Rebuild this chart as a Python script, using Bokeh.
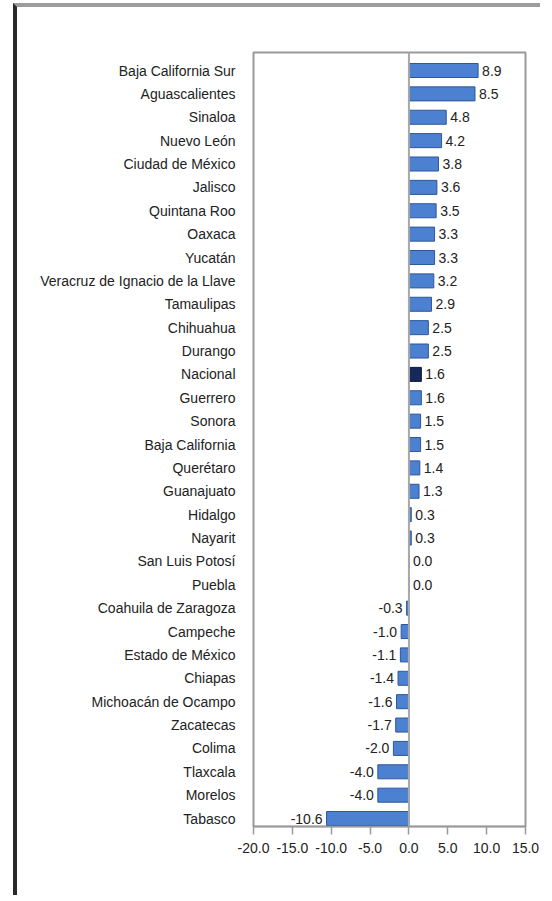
from bokeh.plotting import figure
from bokeh.models import ColumnDataSource, FixedTicker, NumeralTickFormatter, Span, Range1d
from bokeh.core.properties import value
from bokeh.embed import file_html
from bokeh.resources import INLINE

states = [
    "Baja California Sur", "Aguascalientes", "Sinaloa", "Nuevo León",
    "Ciudad de México", "Jalisco", "Quintana Roo", "Oaxaca", "Yucatán",
    "Veracruz de Ignacio de la Llave", "Tamaulipas", "Chihuahua", "Durango",
    "Nacional", "Guerrero", "Sonora", "Baja California", "Querétaro",
    "Guanajuato", "Hidalgo", "Nayarit", "San Luis Potosí", "Puebla",
    "Coahuila de Zaragoza", "Campeche", "Estado de México", "Chiapas",
    "Michoacán de Ocampo", "Zacatecas", "Colima", "Tlaxcala", "Morelos",
    "Tabasco",
]
values = [
    8.9, 8.5, 4.8, 4.2, 3.8, 3.6, 3.5, 3.3, 3.3, 3.2, 2.9, 2.5, 2.5,
    1.6, 1.6, 1.5, 1.5, 1.4, 1.3, 0.3, 0.3, 0.0, 0.0, -0.3, -1.0, -1.1,
    -1.4, -1.6, -1.7, -2.0, -4.0, -4.0, -10.6,
]
x_ticks = [-20, -15, -10, -5, 0, 5, 10, 15]

n = len(states)
ypos = [n - 1 - i for i in range(n)]
colors = ["#17295a" if s == "Nacional" else "#4c80d0" for s in states]
lines = ["#0e1a3a" if s == "Nacional" else "#2d5798" for s in states]
labels = ["%.1f" % v for v in values]

pos = [i for i, v in enumerate(values) if v >= 0]
neg = [i for i, v in enumerate(values) if v < 0]

src = ColumnDataSource(dict(y=ypos, v=values, c=colors, lc=lines, t=labels))
src_pos = ColumnDataSource(dict(y=[ypos[i] for i in pos], v=[values[i] for i in pos], t=[labels[i] for i in pos]))
src_neg = ColumnDataSource(dict(y=[ypos[i] for i in neg], v=[values[i] for i in neg], t=[labels[i] for i in neg]))

p = figure(
    width=527, height=892,
    x_range=Range1d(-20, 15), y_range=Range1d(-0.34, n - 1 + 0.77),
    output_backend="svg", toolbar_location=None,
    min_border_left=236, min_border_right=19, min_border_top=45, min_border_bottom=73,
)
p.styles = {
    "border-left": "4px solid #2a2a2a",
    "border-top": "4px solid #9c9c9c",
    "margin-left": "13px",
    "margin-top": "3px",
}

p.hbar(y="y", left=0, right="v", height=0.6, fill_color="c", line_color="lc",
       line_width=1, source=src)

p.add_layout(Span(location=0, dimension="height", line_color="#a8a8a8", line_width=2))

FS = "14px"
p.text(x="v", y="y", text="t", source=src_pos, x_offset=4, text_align="left",
       text_baseline="middle", text_font=value("Liberation Sans"),
       text_font_size=FS, text_color="#222222")
p.text(x="v", y="y", text="t", source=src_neg, x_offset=-4, text_align="right",
       text_baseline="middle", text_font=value("Liberation Sans"),
       text_font_size=FS, text_color="#222222")

p.xgrid.visible = False
p.ygrid.visible = False
p.outline_line_color = "#9a9a9a"
p.outline_line_width = 2

p.yaxis.ticker = FixedTicker(ticks=ypos)
p.yaxis.major_label_overrides = {ypos[i]: states[i] for i in range(n)}
p.yaxis.major_tick_line_color = None
p.yaxis.minor_tick_line_color = None
p.yaxis.axis_line_color = None
p.yaxis.major_label_standoff = 12
p.yaxis.major_label_text_font = "Liberation Sans"
p.yaxis.major_label_text_font_size = FS
p.yaxis.major_label_text_color = "#222222"

p.xaxis.ticker = FixedTicker(ticks=x_ticks)
p.xaxis.formatter = NumeralTickFormatter(format="0.0")
p.xaxis.minor_tick_line_color = None
p.xaxis.major_tick_in = 0
p.xaxis.major_tick_out = 8
p.xaxis.major_tick_line_color = "#9a9a9a"
p.xaxis.major_tick_line_width = 1.5
p.xaxis.axis_line_color = "#9a9a9a"
p.xaxis.axis_line_width = 1.5
p.xaxis.major_label_standoff = 8
p.xaxis.major_label_text_font = "Liberation Sans"
p.xaxis.major_label_text_font_size = FS
p.xaxis.major_label_text_color = "#222222"

open("out.html", "w").write(file_html(p, INLINE))
